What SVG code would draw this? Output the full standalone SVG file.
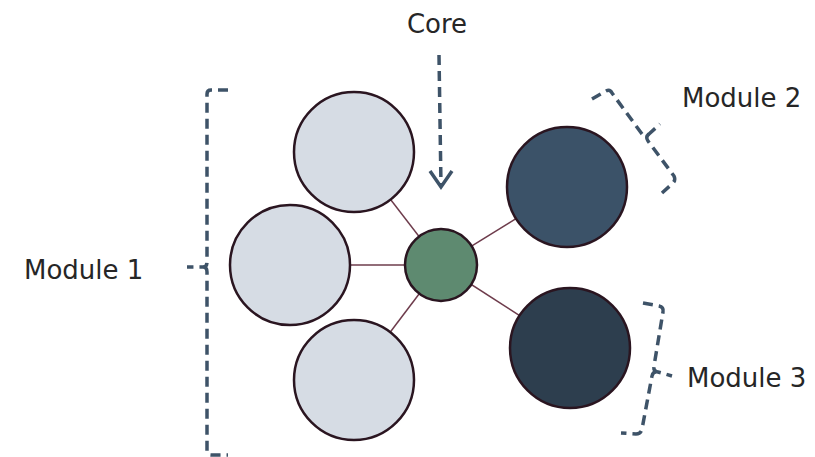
<svg xmlns="http://www.w3.org/2000/svg" width="815" height="457" viewBox="0 0 815 457">
<defs>
<style>
.lbl{font-family:"DejaVu Sans","Liberation Sans",sans-serif;font-size:26px;fill:#262626}
.node{stroke:#2a1520;stroke-width:2.5}
.light{fill:#d6dce4}
.link{stroke:#6e3c4c;stroke-width:1.5;fill:none}
.brk{fill:none;stroke:#3e5368;stroke-width:3.5;stroke-dasharray:10 6;stroke-linejoin:round;stroke-linecap:butt}
</style>
</defs>
<rect width="815" height="457" fill="#ffffff"/>
<g id="connectors">
<line class="link" x1="441" y1="265" x2="354" y2="152"/>
<line class="link" x1="441" y1="265" x2="290" y2="265"/>
<line class="link" x1="441" y1="265" x2="354" y2="380"/>
<line class="link" x1="441" y1="265" x2="567" y2="187"/>
<line class="link" x1="441" y1="265" x2="570" y2="348"/>
</g>
<g id="m1a"><circle class="node light" cx="354" cy="152" r="60"/></g>
<g id="m1b"><circle class="node light" cx="290" cy="265" r="60"/></g>
<g id="m1c"><circle class="node light" cx="354" cy="380" r="60"/></g>
<g id="core"><circle class="node" cx="441" cy="265" r="36" fill="#5e8a70"/></g>
<g id="m2"><circle class="node" cx="567" cy="187" r="60" fill="#3b5268"/></g>
<g id="m3"><circle class="node" cx="570" cy="348" r="60" fill="#2d3e4e"/></g>
<g id="core-label">
<text class="lbl" x="437" y="33" text-anchor="middle">Core</text>
<line class="brk" x1="439" y1="55" x2="441" y2="186"/>
<polyline fill="none" stroke="#3e5368" stroke-width="3.5" stroke-linejoin="miter" points="430,171 441,187 452,171"/>
</g>
<g id="module1-label">
<path class="brk" d="M228,90 L211,90 Q207,90 207,94 L207,262 Q207,267 203,267 L187,267 M203,267 Q207,267 207,272 L207,451 Q207,455 211,455 L228,455"/>
<text class="lbl" x="24" y="279">Module 1</text>
</g>
<g id="module2-label">
<path class="brk" d="M592,99 L606,91 Q610,89 612,93 L642,134 Q645,137 649,134 L660,124 M649,134 Q645,137 648,141 L674,176 Q676,180 673,183 L662,193"/>
<text class="lbl" x="682" y="107">Module 2</text>
</g>
<g id="module3-label">
<path class="brk" d="M643,303 L659,306 Q664,307 663,312 L654,366 Q653,371 658,372 L672,376 M658,372 Q653,371 652,376 L642,429 Q641,434 636,434 L621,433"/>
<text class="lbl" x="687" y="387">Module 3</text>
</g>
</svg>
